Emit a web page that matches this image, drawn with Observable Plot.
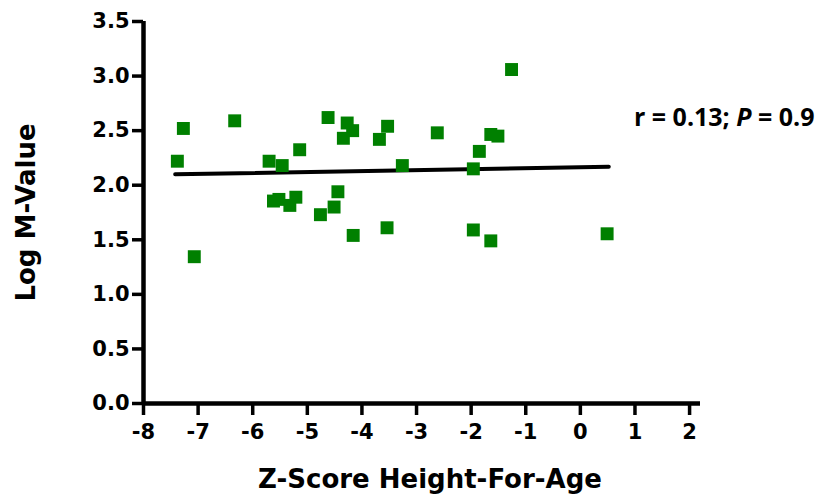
<!DOCTYPE html>
<html><head><meta charset="utf-8">
<script src="https://cdn.jsdelivr.net/npm/d3@7"></script>
<script src="https://cdn.jsdelivr.net/npm/@observablehq/plot@0.6"></script>
<style>body{margin:0;background:#fff}</style>
</head><body><div id="chart"></div>
<script>
// Data
const zScore = [-7.27, -7.38, -6.33, -7.07, -5.70, -5.46, -5.14, -4.62, -4.27, -4.17, -4.34, -3.53, -3.68, -3.26,
  -5.62, -5.52, -5.32, -5.21, -4.76, -4.51, -4.44, -4.16, -3.54,
  -1.26, -2.62, -1.64, -1.51, -1.85, -1.96, -1.96, -1.64, 0.49];
const logM = [2.52, 2.22, 2.59, 1.345, 2.22, 2.18, 2.325, 2.62, 2.57, 2.50, 2.43, 2.54, 2.42, 2.18,
  1.855, 1.87, 1.815, 1.89, 1.73, 1.80, 1.94, 1.54, 1.61,
  3.06, 2.48, 2.465, 2.45, 2.31, 2.15, 1.59, 1.49, 1.555];
const fitX = [-7.42, 0.52];
const fitY = [2.10, 2.17];
const xTicks = [-8, -7, -6, -5, -4, -3, -2, -1, 0, 1, 2];
const yTicks = [0, 0.5, 1.0, 1.5, 2.0, 2.5, 3.0, 3.5];
const xTitle = "Z-Score Height-For-Age";
const yTitle = "Log M-Value";
const statText = "r = 0.13; P = 0.9";

const points = zScore.map((x, i) => ({x, y: logM[i]}));
const fit = fitX.map((x, i) => ({x, y: fitY[i]}));

const chart = Plot.plot({
  width: 817, height: 496,
  marginLeft: 143, marginRight: 117, marginTop: 21, marginBottom: 93,
  style: {fontFamily: "DejaVu Sans", fontWeight: "bold", fontSize: "21px", color: "#000", background: "#fff", overflow: "visible"},
  x: {domain: [-8, 2.2], label: null},
  y: {domain: [0, 3.5], label: null},
  marks: [
    Plot.axisX({ticks: xTicks, tickSize: 12, tickPadding: 9, strokeWidth: 3.5, fontSize: 21, label: null, tickFormat: d => String(d)}),
    Plot.axisY({ticks: yTicks, tickSize: 11, tickPadding: 3, strokeWidth: 3.5, fontSize: 21, label: null, tickFormat: d3.format(".1f")}),
    Plot.ruleY([0], {strokeWidth: 4.5, stroke: "#000"}),
    Plot.ruleX([-8], {strokeWidth: 4.5, stroke: "#000"}),
    Plot.line(fit, {x: "x", y: "y", strokeWidth: 4, stroke: "#000"}),
    Plot.dot(points, {x: "x", y: "y", symbol: "square", r: 7.3, fill: "#008000", stroke: "none"}),
    Plot.text([statText], {frameAnchor: "top-right", textAnchor: "end", lineAnchor: "middle", dx: 114, dy: 96,
      fontFamily: "Open Sans", fontWeight: "bold", fontSize: 25, fill: "#000"}),
    Plot.text([xTitle], {frameAnchor: "bottom", textAnchor: "middle", lineAnchor: "middle", dx: 8, dy: 76, fontSize: 26, fill: "#000"}),
    Plot.text([yTitle], {frameAnchor: "left", textAnchor: "middle", lineAnchor: "middle", rotate: -90, dx: -117, fontSize: 26, fill: "#000"})
  ]
});

document.getElementById("chart").appendChild(chart);

// Heavier tick strokes, like the reference
d3.select(chart).selectAll('g[aria-label="x-axis tick"], g[aria-label="y-axis tick"]')
  .attr("stroke-width", 3.5).selectAll("path").attr("stroke-width", 3.5);

// Italicise the "P" in the statistics annotation
d3.select(chart).selectAll("text").filter(function() { return this.textContent === statText; })
  .each(function() {
    const t = d3.select(this);
    t.text(null).style("white-space", "pre");
    t.append("tspan").text("r = 0.13; ");
    t.append("tspan").style("font-style", "italic").text("P");
    t.append("tspan").text(" = 0.9");
  });
</script>
</body></html>
